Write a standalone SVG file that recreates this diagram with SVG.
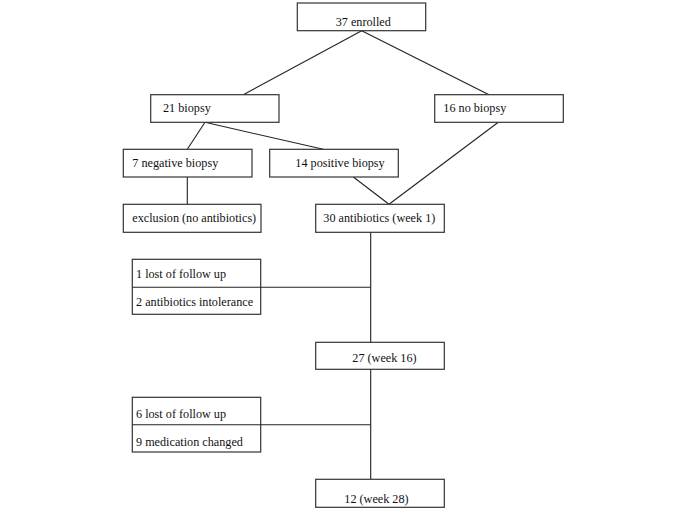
<svg xmlns="http://www.w3.org/2000/svg" width="685" height="512" viewBox="0 0 685 512">
<style>
rect{fill:#fff;stroke:#333;stroke-width:1.2}
line{stroke:#222;stroke-width:1.1}
text{font-family:"Liberation Serif","Times New Roman",serif;font-size:12.2px;fill:#111}
</style>
<rect x="0" y="0" width="685" height="512" style="stroke:none"/>
<g id="connectors">
<line x1="361.7" y1="30.7" x2="243.3" y2="94.7"/>
<line x1="361.7" y1="30.7" x2="489" y2="94.7"/>
<line x1="205" y1="122.3" x2="187.3" y2="149.3"/>
<line x1="205" y1="122.3" x2="323.3" y2="149.3"/>
<line x1="498.3" y1="122.3" x2="389" y2="204.3"/>
<line x1="353.3" y1="177" x2="389" y2="204.3"/>
<line x1="187.3" y1="177" x2="187.3" y2="204.3"/>
<line x1="370.7" y1="232.3" x2="370.7" y2="342.3"/>
<line x1="260.7" y1="287.3" x2="370.7" y2="287.3"/>
<line x1="370.7" y1="369.3" x2="370.7" y2="479.3"/>
<line x1="260.7" y1="424.7" x2="370.7" y2="424.7"/>
</g>
<g id="n-enrolled"><rect x="297.3" y="3" width="128.4" height="27.7"/><text x="335.7" y="25.5">37 enrolled</text></g>
<g id="n-biopsy"><rect x="150.7" y="94.7" width="128.3" height="27.6"/><text x="163" y="111.5">21 biopsy</text></g>
<g id="n-nobiopsy"><rect x="434.7" y="94.7" width="128.6" height="27.6"/><text x="443.3" y="111.5">16 no biopsy</text></g>
<g id="n-negative"><rect x="123.3" y="149.3" width="128.7" height="27.7"/><text x="132.3" y="166.5">7 negative biopsy</text></g>
<g id="n-positive"><rect x="269.7" y="149.3" width="128.6" height="27.7"/><text x="295.3" y="166.5">14 positive biopsy</text></g>
<g id="n-exclusion"><rect x="123.3" y="204.3" width="137.7" height="28"/><text x="132.3" y="221.7">exclusion (no antibiotics)</text></g>
<g id="n-antibiotics"><rect x="315.7" y="204.3" width="128.6" height="28"/><text x="323.3" y="221.7">30 antibiotics (week 1)</text></g>
<g id="n-loss1"><rect x="132.3" y="259.3" width="128.4" height="55"/><line x1="132.3" y1="287.3" x2="260.7" y2="287.3"/><text x="136" y="278.3">1 lost of follow up</text><text x="136" y="306">2 antibiotics intolerance</text></g>
<g id="n-week16"><rect x="315.7" y="342.3" width="128.6" height="27"/><text x="352.3" y="362.3">27 (week 16)</text></g>
<g id="n-loss2"><rect x="132.3" y="397.3" width="128.4" height="54.7"/><line x1="132.3" y1="424.7" x2="260.7" y2="424.7"/><text x="136" y="418.3">6 lost of follow up</text><text x="136" y="446">9 medication changed</text></g>
<g id="n-week28"><rect x="315.7" y="479.3" width="128.6" height="28"/><text x="344.3" y="503.3">12 (week 28)</text></g>
</svg>
